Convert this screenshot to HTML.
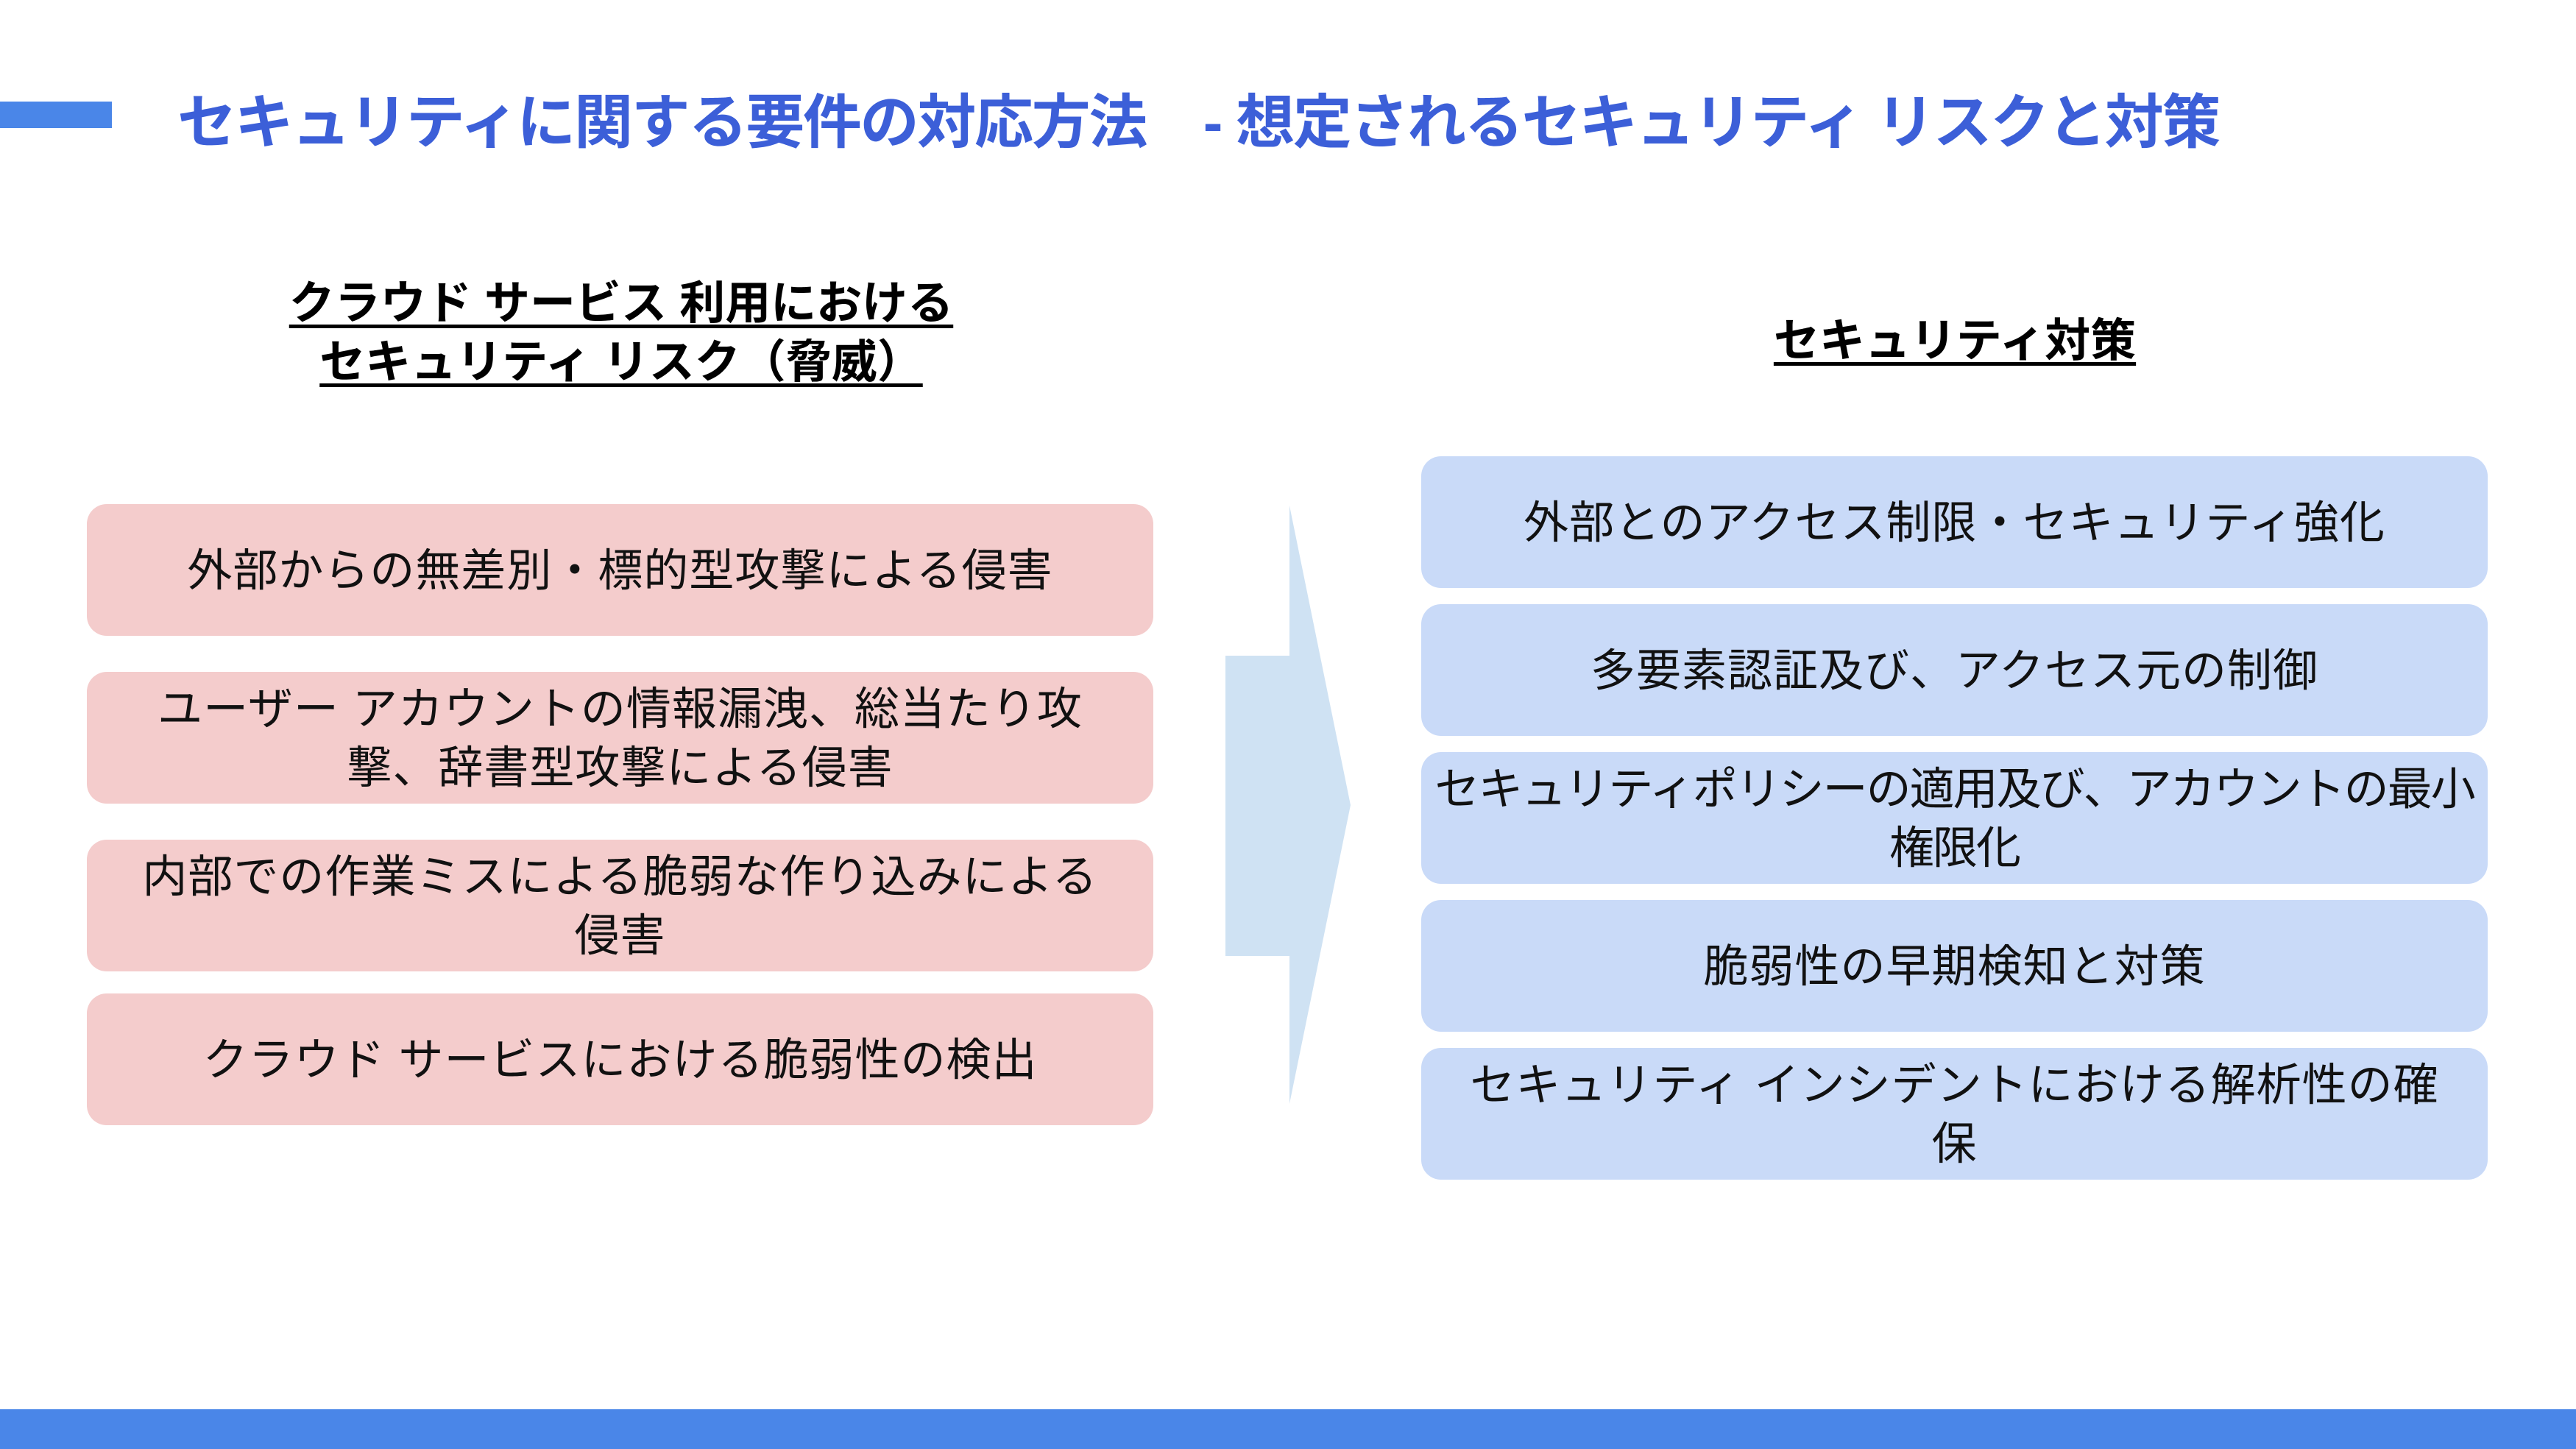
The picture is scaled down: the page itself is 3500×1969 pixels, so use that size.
<!DOCTYPE html>
<html><head><meta charset="utf-8"><style>
*{margin:0;padding:0;box-sizing:border-box}
body{width:3500px;height:1969px;background:#fff;position:relative;overflow:hidden;font-family:"Liberation Sans","Noto Sans CJK JP",sans-serif}
.bar{position:absolute;left:0;top:138px;width:152px;height:36px;background:#4a86e8}
.bottom{position:absolute;left:0;top:1915px;width:3500px;height:54px;background:#4a86e8}
.title{position:absolute;left:241px;top:117px;font-size:80px;font-weight:bold;color:#3c5fd8;white-space:pre;letter-spacing:-2.3px;line-height:100px}
.h{position:absolute;font-size:62px;font-weight:bold;color:#000;text-align:center;text-decoration:underline;text-decoration-thickness:5px;text-underline-offset:8px;line-height:80px;white-space:nowrap}
.box{position:absolute;width:1449px;height:179px;border-radius:27px;display:flex;align-items:center;justify-content:center;text-align:center;font-size:61px;line-height:80px;color:#111;white-space:nowrap;letter-spacing:1px}
.p{left:118px;background:#f4cccc}
.b{left:1931px;background:#c9daf8}
</style></head><body>
<div class="bar"></div>
<div class="title">セキュリティに関する要件の対応方法　- 想定されるセキュリティ リスクと対策</div>
<div class="h" style="left:344px;width:1000px;top:373px">クラウド サービス 利用における<br>セキュリティ リスク（脅威）</div>
<div class="h" style="left:2156px;width:1000px;top:424px">セキュリティ対策</div>

<div class="box p" style="top:685px">外部からの無差別・標的型攻撃による侵害</div>
<div class="box p" style="top:913px">ユーザー アカウントの情報漏洩、総当たり攻<br>撃、辞書型攻撃による侵害</div>
<div class="box p" style="top:1141px">内部での作業ミスによる脆弱な作り込みによる<br>侵害</div>
<div class="box p" style="top:1350px">クラウド サービスにおける脆弱性の検出</div>

<svg style="position:absolute;left:0;top:0" width="3500" height="1969"><polygon points="1665,891 1752,891 1752,687 1835,1094 1752,1500 1752,1299 1665,1299" fill="#cfe2f3"/></svg>

<div class="box b" style="top:620px">外部とのアクセス制限・セキュリティ強化</div>
<div class="box b" style="top:821px">多要素認証及び、アクセス元の制御</div>
<div class="box b" style="top:1022px;letter-spacing:-2px">セキュリティポリシーの適用及び、アカウントの最小<br>権限化</div>
<div class="box b" style="top:1223px">脆弱性の早期検知と対策</div>
<div class="box b" style="top:1424px">セキュリティ インシデントにおける解析性の確<br>保</div>
<div class="bottom"></div>
</body></html>
